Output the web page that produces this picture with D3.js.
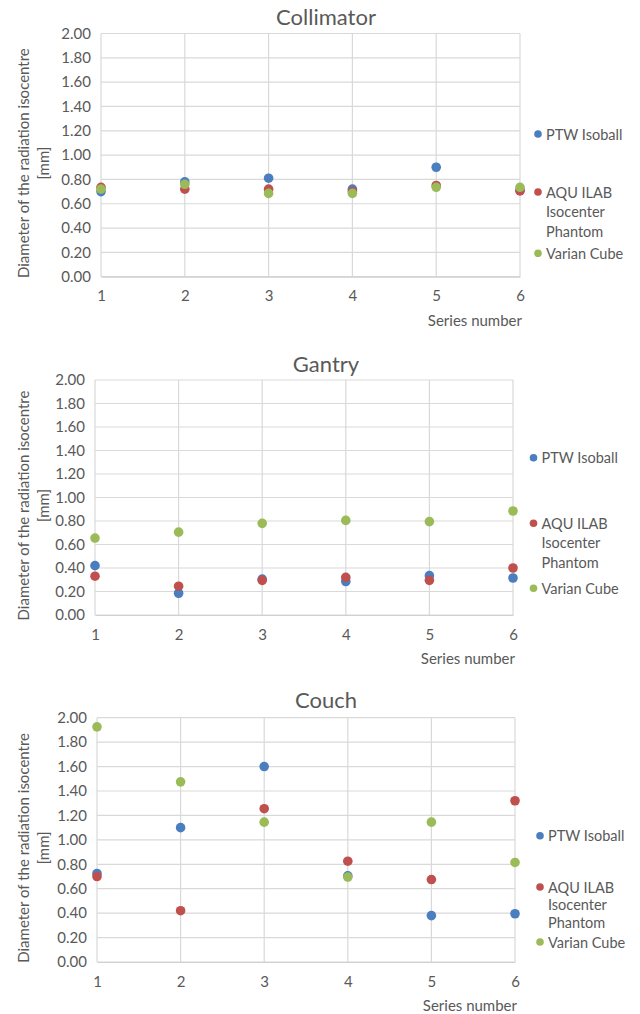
<!DOCTYPE html>
<html>
<head>
<meta charset="utf-8">
<script src="https://cdn.jsdelivr.net/npm/d3@7"></script>
<style>
  html, body { margin: 0; padding: 0; background: #fff; }
  svg { display: block; }
  text { font-family: Lato, "Open Sans", sans-serif; fill: #595959; }
</style>
</head>
<body>
<svg id="chart" width="640" height="1014"></svg>
<script>
// ---- Data ----
const categories = [1, 2, 3, 4, 5, 6];
const seriesNames = ["PTW Isoball", "AQUILAB Isocenter Phantom", "Varian Cube"];
const legendLines = ["AQU ILAB", "Isocenter", "Phantom"];
const yTicks = [0, 0.2, 0.4, 0.6, 0.8, 1.0, 1.2, 1.4, 1.6, 1.8, 2.0];

const collimatorPTW     = [0.70, 0.78, 0.81, 0.72, 0.90, 0.71];
const collimatorAQUILAB = [0.735, 0.72, 0.72, 0.70, 0.75, 0.705];
const collimatorVarian  = [0.72, 0.76, 0.685, 0.685, 0.735, 0.735];

const gantryPTW     = [0.42, 0.185, 0.305, 0.285, 0.335, 0.315];
const gantryAQUILAB = [0.33, 0.245, 0.295, 0.32, 0.295, 0.40];
const gantryVarian  = [0.655, 0.705, 0.78, 0.805, 0.795, 0.885];

const couchPTW     = [0.725, 1.10, 1.60, 0.705, 0.38, 0.395];
const couchAQUILAB = [0.70, 0.42, 1.255, 0.825, 0.675, 1.32];
const couchVarian  = [1.925, 1.475, 1.145, 0.695, 1.145, 0.815];

const colors = ["#4a7ebf", "#c0504d", "#9bbb59"];

// ---- Layout ----
const panels = [
  { title: "Collimator", series: [collimatorPTW, collimatorAQUILAB, collimatorVarian],
    left: 101, right: 520, top: 33.5, bottom: 276.7, titleY: 16,
    legendX: 538, legendY: [134, 192, 253.3], lineGap: 19.5, xTitleY: 320 },
  { title: "Gantry", series: [gantryPTW, gantryAQUILAB, gantryVarian],
    left: 95, right: 513, top: 380, bottom: 615, titleY: 363,
    legendX: 533.5, legendY: [457.7, 523.3, 588.3], lineGap: 19.5, xTitleY: 658 },
  { title: "Couch", series: [couchPTW, couchAQUILAB, couchVarian],
    left: 97, right: 515, top: 717.7, bottom: 962, titleY: 699,
    legendX: 540, legendY: [835.7, 887, 942], lineGap: 17.5, xTitleY: 1005 }
];

const svg = d3.select("#chart");

panels.forEach(p => {
  const g = svg.append("g");
  const x = d3.scaleLinear().domain([1, 6]).range([p.left, p.right]);
  const y = d3.scaleLinear().domain([0, 2]).range([p.bottom, p.top]);

  // gridlines
  g.append("g").selectAll("line").data(yTicks).join("line")
    .attr("x1", p.left).attr("x2", p.right)
    .attr("y1", d => y(d)).attr("y2", d => y(d))
    .attr("stroke", "#d9d9d9").attr("stroke-width", 1.2);
  g.append("g").selectAll("line").data(categories).join("line")
    .attr("x1", d => x(d)).attr("x2", d => x(d))
    .attr("y1", p.top).attr("y2", p.bottom)
    .attr("stroke", "#d9d9d9").attr("stroke-width", 1.2);

  // y axis
  const yAxis = d3.axisLeft(y).tickValues(yTicks).tickFormat(d3.format(".2f")).tickSize(0).tickPadding(10);
  const ya = g.append("g").attr("transform", `translate(${p.left},0)`).call(yAxis);
  ya.select(".domain").remove();
  ya.selectAll("text").attr("font-size", 15).attr("fill", "#595959")
    .style("font-family", "Lato, sans-serif");

  // x axis
  const xAxis = d3.axisBottom(x).tickValues(categories).tickFormat(d3.format("d")).tickSize(0).tickPadding(14);
  const xa = g.append("g").attr("transform", `translate(0,${p.bottom})`).call(xAxis);
  xa.select(".domain").attr("stroke", "#d0d0d0").attr("stroke-width", 1.2);
  xa.selectAll("text").attr("font-size", 15).attr("fill", "#595959")
    .style("font-family", "Lato, sans-serif");

  // title
  g.append("text").attr("x", 326).attr("y", p.titleY)
    .attr("text-anchor", "middle").attr("dominant-baseline", "central")
    .attr("font-size", 22).text(p.title);

  // y title
  const cy = (p.top + p.bottom) / 2 + 8;
  g.append("text").attr("transform", `translate(22.5,${cy}) rotate(-90)`)
    .attr("text-anchor", "middle").attr("dominant-baseline", "central")
    .attr("font-size", 15).text("Diameter of the radiation isocentre");
  g.append("text").attr("transform", `translate(43,${cy}) rotate(-90)`)
    .attr("text-anchor", "middle").attr("dominant-baseline", "central")
    .attr("font-size", 15).text("[mm]");

  // x title
  g.append("text").attr("x", p.right + 2).attr("y", p.xTitleY)
    .attr("text-anchor", "end").attr("dominant-baseline", "central")
    .attr("font-size", 15).text("Series number");

  // points
  p.series.forEach((vals, si) => {
    g.append("g").selectAll("circle").data(vals).join("circle")
      .attr("cx", (d, i) => x(categories[i]))
      .attr("cy", d => y(d))
      .attr("r", 4.8)
      .attr("fill", colors[si]);
  });

  // legend
  const lg = g.append("g");
  seriesNames.forEach((name, si) => {
    const ly = p.legendY[si];
    lg.append("circle").attr("cx", p.legendX).attr("cy", ly).attr("r", 3.8).attr("fill", colors[si]);
    const lines = si === 1 ? legendLines : [name];
    lines.forEach((t, li) => {
      lg.append("text").attr("x", p.legendX + 8).attr("y", ly + li * p.lineGap)
        .attr("dominant-baseline", "central").attr("font-size", 14.5).text(t);
    });
  });
});
</script>
</body>
</html>
